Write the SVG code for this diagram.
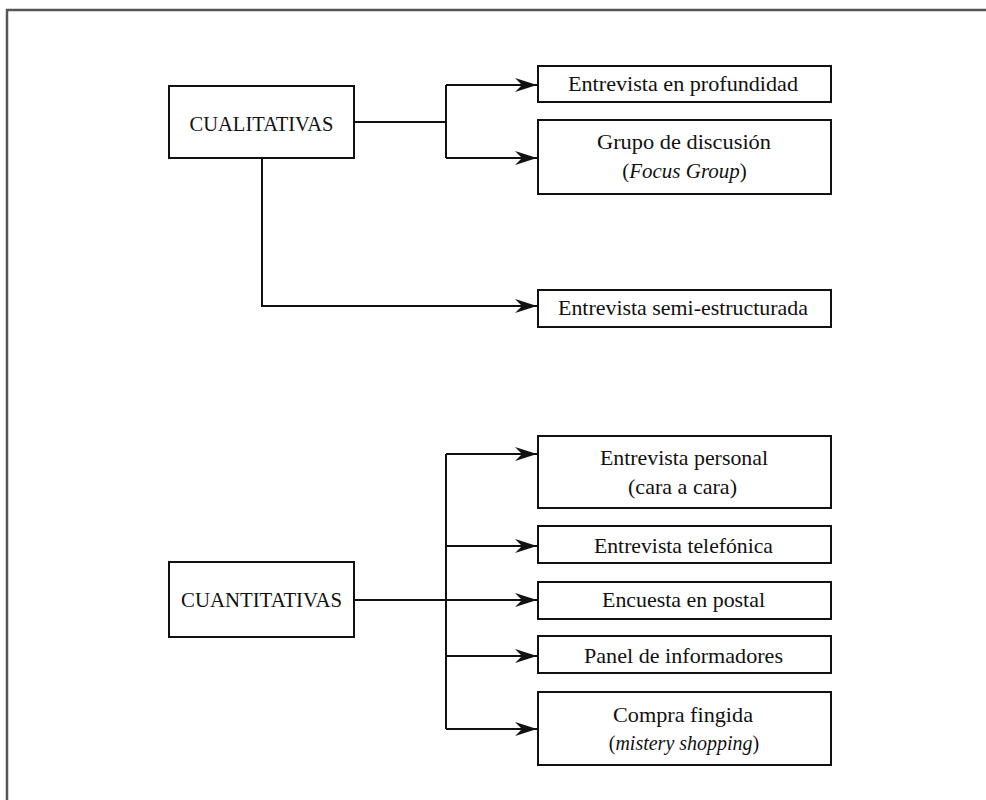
<svg xmlns="http://www.w3.org/2000/svg" width="986" height="800" viewBox="0 0 986 800">
<style>
  .box{fill:#fff;stroke:#111;stroke-width:2}
  .t{font-family:"Liberation Serif","Times New Roman",serif;font-size:21px;fill:#111;text-anchor:middle}
  .it{font-style:italic}
  .c{fill:none;stroke:#111;stroke-width:2}
  .a{marker-end:url(#arr)}
</style>
<defs>
  <marker id="arr" markerUnits="userSpaceOnUse" markerWidth="24" markerHeight="16" viewBox="-22 -8 24 16" refX="0" refY="0" orient="auto">
    <path d="M0,0 L-22,-7 L-15,0 L-22,7 Z" fill="#111"/>
  </marker>
</defs>
<rect width="986" height="800" fill="#fff"/>
<path d="M7,800 V10 H986" fill="none" stroke="#555" stroke-width="2.5"/>

<g id="connectors">
  <path class="c" d="M354,122 H446 M446,85 V158"/>
  <path class="c a" d="M446,85 H537"/>
  <path class="c a" d="M446,158 H537"/>
  <path class="c a" d="M262,158 V306 H537"/>
  <path class="c" d="M446,454 V729"/>
  <path class="c a" d="M354,600 H537"/>
  <path class="c a" d="M446,454 H537"/>
  <path class="c a" d="M446,546 H537"/>
  <path class="c a" d="M446,656 H537"/>
  <path class="c a" d="M446,729 H537"/>
</g>

<g id="cualitativas">
  <rect class="box" x="169" y="86" width="185" height="72"/>
  <text class="t" x="261.5" y="131" textLength="144" lengthAdjust="spacingAndGlyphs">CUALITATIVAS</text>
</g>
<g id="profundidad">
  <rect class="box" x="538" y="66" width="293" height="36"/>
  <text class="t" x="683" y="91" textLength="230" lengthAdjust="spacingAndGlyphs">Entrevista en profundidad</text>
</g>
<g id="grupo">
  <rect class="box" x="538" y="120" width="293" height="74"/>
  <text class="t" x="684" y="149" textLength="174" lengthAdjust="spacingAndGlyphs">Grupo de discusión</text>
  <text class="t" x="684.5" y="178">(<tspan class="it">Focus Group</tspan>)</text>
</g>
<g id="semi">
  <rect class="box" x="538" y="290" width="293" height="37"/>
  <text class="t" x="683" y="315" textLength="250" lengthAdjust="spacingAndGlyphs">Entrevista semi-estructurada</text>
</g>

<g id="cuantitativas">
  <rect class="box" x="169" y="562" width="185" height="75"/>
  <text class="t" x="261.5" y="607" textLength="161" lengthAdjust="spacingAndGlyphs">CUANTITATIVAS</text>
</g>
<g id="personal">
  <rect class="box" x="538" y="436" width="293" height="72"/>
  <text class="t" x="684" y="465" textLength="168" lengthAdjust="spacingAndGlyphs">Entrevista personal</text>
  <text class="t" x="682.5" y="494" textLength="109" lengthAdjust="spacingAndGlyphs">(cara a cara)</text>
</g>
<g id="telefonica">
  <rect class="box" x="538" y="526" width="293" height="37"/>
  <text class="t" x="683.5" y="553" textLength="179" lengthAdjust="spacingAndGlyphs">Entrevista telefónica</text>
</g>
<g id="postal">
  <rect class="box" x="538" y="582" width="293" height="37"/>
  <text class="t" x="683.5" y="607" textLength="163" lengthAdjust="spacingAndGlyphs">Encuesta en postal</text>
</g>
<g id="panel">
  <rect class="box" x="538" y="636" width="293" height="37"/>
  <text class="t" x="683.5" y="663" textLength="199" lengthAdjust="spacingAndGlyphs">Panel de informadores</text>
</g>
<g id="compra">
  <rect class="box" x="538" y="692" width="293" height="73"/>
  <text class="t" x="683" y="722" textLength="140" lengthAdjust="spacingAndGlyphs">Compra fingida</text>
  <text class="t" x="684" y="750" style="font-size:20px">(<tspan class="it">mistery shopping</tspan>)</text>
</g>
</svg>
